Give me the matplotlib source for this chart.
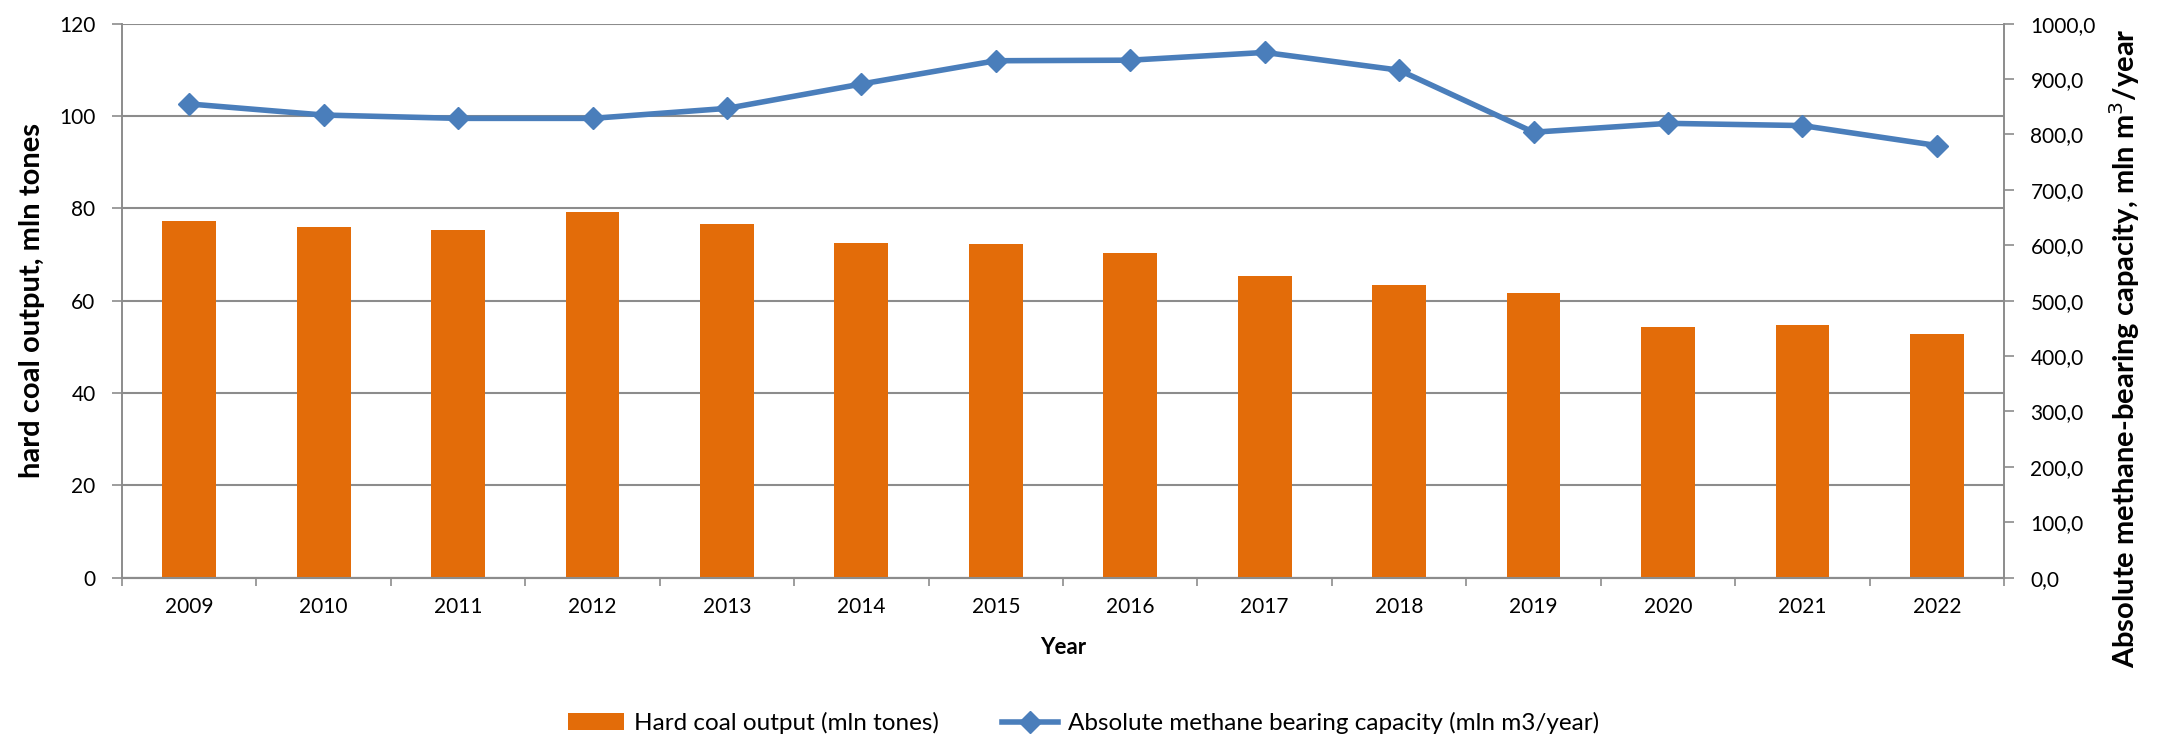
import numpy as np
import matplotlib.pyplot as plt
from matplotlib.ticker import FixedLocator, FuncFormatter

# data
years = ["2009", "2010", "2011", "2012", "2013", "2014", "2015",
         "2016", "2017", "2018", "2019", "2020", "2021", "2022"]
coal_output = [77.3, 76.0, 75.4, 79.1, 76.5, 72.4, 72.2,
               70.4, 65.4, 63.3, 61.6, 54.4, 54.8, 52.7]
methane_capacity = [855, 835, 829, 829, 847, 891, 933,
                    934, 948, 916, 804, 820, 816, 780]

bar_color = "#E36C09"
line_color = "#4A7EBB"
grid_color = "#8C8C8C"
fam = ["Lato", "DejaVu Sans"]

plt.rcParams['font.family'] = fam

fig = plt.figure(figsize=(21.67, 7.38), dpi=100)
ax = fig.add_axes([0.0563, 0.2172, 0.8685, 0.7508])
ax2 = ax.twinx()

x = np.arange(len(years))
bars = ax.bar(x, coal_output, width=0.4, color=bar_color, zorder=3,
              label="Hard coal output (mln tones)")
line, = ax2.plot(x, methane_capacity, color=line_color, lw=4, marker="D",
                 markersize=11, zorder=4,
                 label="Absolute methane bearing capacity (mln m3/year)")

ax.set_xlim(-0.5, len(years) - 0.5)
ax.set_ylim(0, 120)
ax.set_yticks(range(0, 121, 20))
ax2.set_ylim(0, 1000)
ax2.set_yticks(range(0, 1001, 100))
ax2.yaxis.set_major_formatter(FuncFormatter(lambda v, p: f"{v:.1f}".replace(".", ",")))

ax.yaxis.grid(True, color=grid_color, lw=1.5, zorder=0)
ax.set_axisbelow(True)

ax.set_xticks(x)
ax.set_xticklabels(years)
ax.xaxis.set_minor_locator(FixedLocator(np.arange(-0.5, len(years), 1)))
ax.tick_params(axis="x", which="major", length=0, pad=14, labelsize=15)
ax.tick_params(axis="x", which="minor", length=6, width=1.2, color=grid_color)
ax.tick_params(axis="y", length=7, width=1.2, color=grid_color, labelsize=15, pad=12)
ax2.tick_params(axis="y", length=7, width=1.2, color=grid_color, labelsize=15, pad=12)

for a in (ax, ax2):
    a.spines["top"].set_visible(False)
    for s in ["left", "right", "bottom"]:
        a.spines[s].set_color(grid_color)
        a.spines[s].set_linewidth(1.2)
    a.spines["bottom"].set_linewidth(1.5)

title_font = dict(family=fam, weight="bold", size=21)
ax.set_ylabel("hard coal output, mln tones", labelpad=10, **title_font)
ax2.set_ylabel("Absolute methane-bearing capacity, mln m$^3$/year", labelpad=8, **title_font)
ax2.yaxis.label.set_y(0.415)
ax.set_xlabel("Year", labelpad=14, family=fam, weight="bold", size=16)

fig.legend(handles=[bars, line], loc="center", bbox_to_anchor=(0.5, 0.02),
           ncol=2, frameon=False, columnspacing=2.6, handlelength=2.3,
           handletextpad=0.4, prop=dict(family=fam, size=17.5))

fig.savefig("out.png", dpi=100)
